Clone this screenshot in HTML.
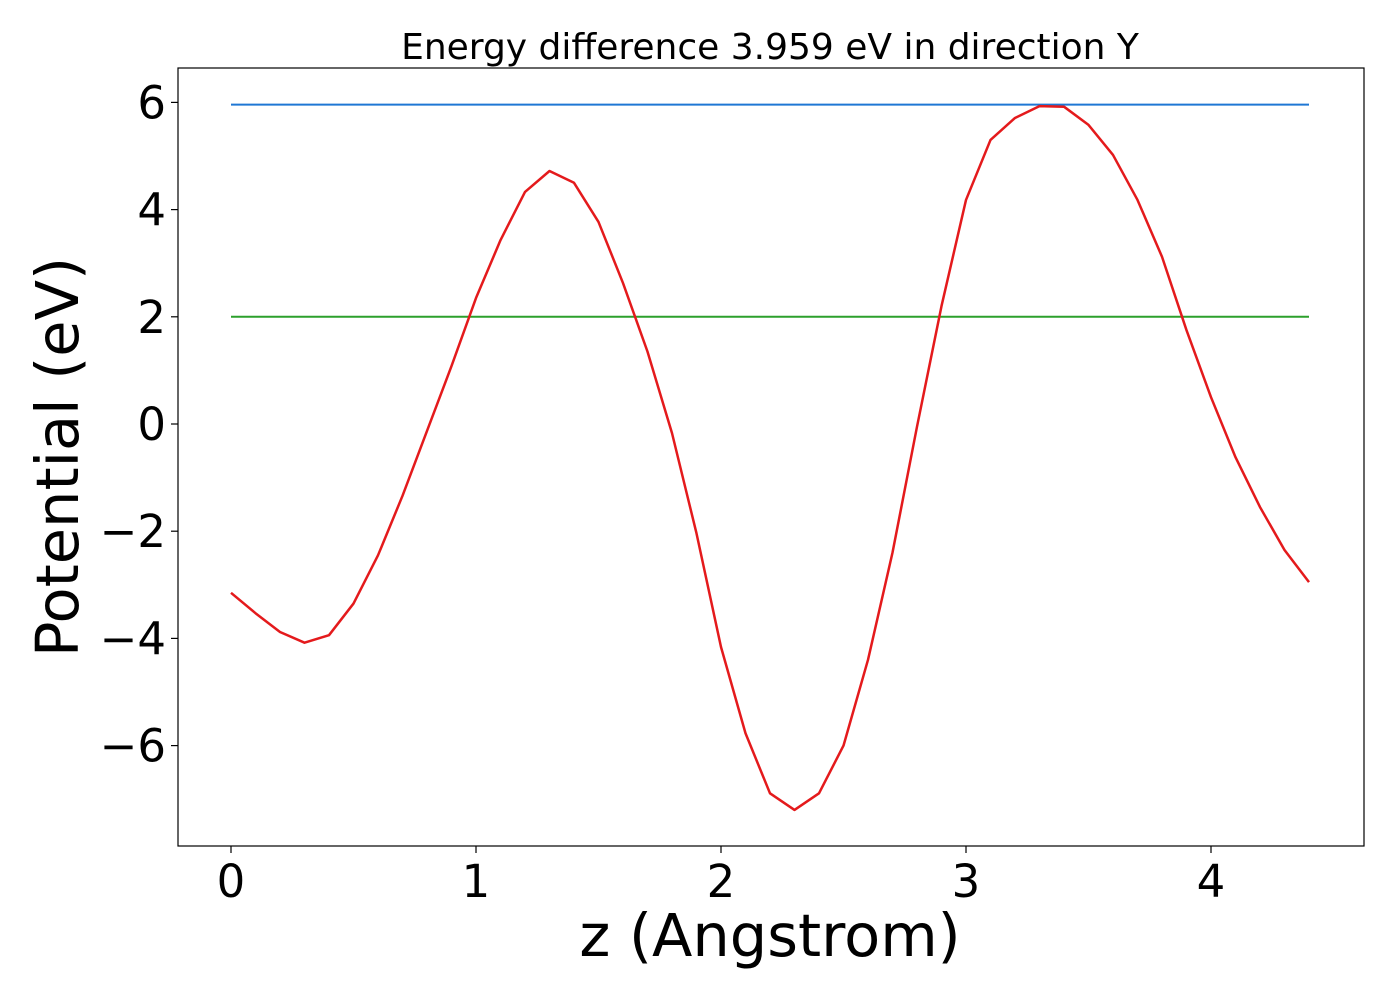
<!DOCTYPE html>
<html><head><meta charset="utf-8"><style>
body{margin:0;background:#fff}
svg text{font-family:"DejaVu Sans","Liberation Sans",sans-serif;fill:#000}
</style></head><body>
<svg width="1400" height="1000" xmlns="http://www.w3.org/2000/svg" id="chart">
<text x="770" y="59" font-size="36" text-anchor="middle">Energy difference 3.959 eV in direction Y</text>
<text x="770" y="956" font-size="59" text-anchor="middle">z (Angstrom)</text>
<text transform="translate(78,457) rotate(-90)" font-size="59" text-anchor="middle">Potential (eV)</text>
<g id="plot"></g>
<rect x="178" y="68" width="1186" height="778" fill="none" stroke="#000" stroke-width="1.2"/>
</svg>
<script>
const zValues=[0,0.1,0.2,0.3,0.4,0.5,0.6,0.7,0.8,0.9,1.0,1.1,1.2,1.3,1.4,1.5,1.6,1.7,1.8,1.9,2.0,2.1,2.2,2.3,2.4,2.5,2.6,2.7,2.8,2.9,3.0,3.1,3.2,3.3,3.4,3.5,3.6,3.7,3.8,3.9,4.0,4.1,4.2,4.3,4.4];
const potential=[-3.15,-3.53,-3.88,-4.08,-3.94,-3.35,-2.45,-1.34,-0.13,1.08,2.35,3.43,4.33,4.72,4.5,3.77,2.63,1.35,-0.17,-2.04,-4.16,-5.77,-6.89,-7.2,-6.89,-6.0,-4.4,-2.4,-0.05,2.2,4.18,5.3,5.71,5.93,5.92,5.58,5.02,4.18,3.12,1.75,0.5,-0.62,-1.55,-2.35,-2.95];
const maxLevel=5.959;
const refLevel=2.0;
const xTicks=[0,1,2,3,4];
const yTicks=[-6,-4,-2,0,2,4,6];
const yTickLabels=["\u22126","\u22124","\u22122","0","2","4","6"];
const X=v=>231+245*v;
const Y=v=>424-53.6*v;
const NS="http://www.w3.org/2000/svg";
const g=document.getElementById('plot');
function mk(t,a){const e=document.createElementNS(NS,t);for(const k in a)e.setAttribute(k,a[k]);g.appendChild(e);return e;}
xTicks.forEach(t=>{
 const l=mk('line',{x1:X(t),x2:X(t),y1:846,y2:853,stroke:'#000','stroke-width':1.2});
 
 
 const tx=mk('text',{x:X(t),y:897,'font-size':45,'text-anchor':'middle'});tx.textContent=t;
 
 
});
yTicks.forEach((t,i)=>{
 const l=mk('line',{x1:171,x2:178,y1:Y(t),y2:Y(t),stroke:'#000','stroke-width':1.2});
 
 
 const tx=mk('text',{x:166,y:Y(t)+16,'font-size':45,'text-anchor':'end'});tx.textContent=yTickLabels[i];
 
 
});
const x0=X(zValues[0]),x1=X(zValues[zValues.length-1]);
const b=mk('line',{x1:x0,x2:x1,y1:Y(maxLevel),y2:Y(maxLevel),stroke:'#1f77d4','stroke-width':2});


const gr=mk('line',{x1:x0,x2:x1,y1:Y(refLevel),y2:Y(refLevel),stroke:'#2ca02c','stroke-width':2});


const p=mk('polyline',{points:zValues.map((z,i)=>X(z)+','+Y(potential[i])).join(' '),fill:'none',stroke:'#e41a1c','stroke-width':2.5,'stroke-linejoin':'round'});


</script>
</body></html>
